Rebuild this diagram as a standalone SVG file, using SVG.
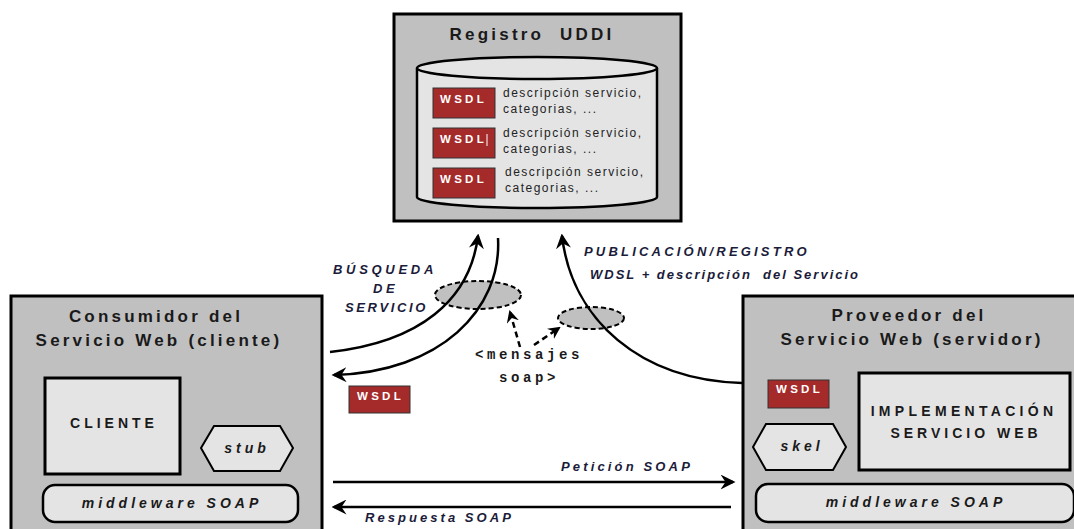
<svg xmlns="http://www.w3.org/2000/svg" width="1074" height="529" viewBox="0 0 1074 529">
<defs>
<style>
.box{fill:#c0c0c0;stroke:#000;stroke-width:3}
.inner{fill:#e4e4e4;stroke:#000;stroke-width:3}
.wsdl{fill:#a52a2a;stroke:#333;stroke-width:1}
.wt{font-family:"Liberation Sans",Arial,sans-serif;font-weight:bold;font-size:11.5px;fill:#fff;letter-spacing:3.3px}
.t{font-family:"Liberation Sans",Arial,sans-serif;font-weight:bold;fill:#1a1a1a}
.h{font-size:17px;letter-spacing:3.2px;white-space:pre}
.d{font-size:12px;font-weight:normal;fill:#222;letter-spacing:1.5px}
.it{font-family:"Liberation Sans",Arial,sans-serif;font-weight:bold;font-style:italic;fill:#1b1b3a;font-size:13px;letter-spacing:3px;white-space:pre}
.mono{font-family:"Liberation Mono","Courier New",monospace;font-weight:bold;font-size:14px;fill:#1a1a1a;letter-spacing:3.6px}
.b14{font-size:14px;letter-spacing:4px}
.i14{font-size:14px;font-style:italic;letter-spacing:4px}
.line{fill:none;stroke:#000;stroke-width:2.5}
.dash{fill:none;stroke:#000;stroke-width:2.5;stroke-dasharray:6 4}
</style>
<marker id="ah" viewBox="0 0 12 12" refX="10" refY="6" markerWidth="6" markerHeight="6" orient="auto" markerUnits="strokeWidth">
<path d="M0,0 L12,6 L0,12 L4,6 Z" fill="#000"/>
</marker>
<marker id="ahd" viewBox="0 0 12 12" refX="10" refY="6" markerWidth="5" markerHeight="5" orient="auto" markerUnits="strokeWidth">
<path d="M0,0 L12,6 L0,12 L4,6 Z" fill="#000"/>
</marker>
</defs>

<g id="uddi">
<rect class="box" x="394" y="14" width="287" height="207"/>
<text class="t h" x="532" y="40" text-anchor="middle">Registro  UDDI</text>
<path d="M417,68 L417,197 A120,11 0 0 0 657,197 L657,68" fill="#e4e4e4" stroke="#000" stroke-width="2.5"/>
<ellipse cx="537" cy="68" rx="120" ry="11" fill="#e4e4e4" stroke="#000" stroke-width="2.5"/>
<rect class="wsdl" x="433" y="88" width="62" height="30"/>
<text class="wt" x="440" y="103">WSDL</text>
<text class="t d" x="503" y="97">descripción servicio,</text>
<text class="t d" x="503" y="113">categorias, ...</text>
<rect class="wsdl" x="433" y="128" width="62" height="30"/>
<text class="wt" x="440" y="143">WSDL</text>
<line x1="487" y1="134" x2="487" y2="146" stroke="#fff" stroke-width="1"/>
<text class="t d" x="503" y="137">descripción servicio,</text>
<text class="t d" x="503" y="153">categorias, ...</text>
<rect class="wsdl" x="433" y="168" width="62" height="30"/>
<text class="wt" x="440" y="183">WSDL</text>
<text class="t d" x="505" y="176">descripción servicio,</text>
<text class="t d" x="505" y="192">categorias, ...</text>
</g>

<g id="consumidor">
<rect class="box" x="11" y="296" width="311" height="240"/>
<text class="t h" x="156" y="322" text-anchor="middle">Consumidor del</text>
<text class="t h" x="159" y="346" text-anchor="middle">Servicio Web (cliente)</text>
<rect class="inner" x="45" y="378" width="135" height="96"/>
<text class="t b14" x="114" y="428" text-anchor="middle">CLIENTE</text>
<polygon points="214,426 280,426 293,448 280,471 214,471 201,448" fill="#e4e4e4" stroke="#000" stroke-width="2"/>
<text class="t i14" x="247" y="453" text-anchor="middle">stub</text>
<rect x="43" y="485" width="255" height="37" rx="12" fill="#e4e4e4" stroke="#000" stroke-width="2.5"/>
<text class="t i14" x="172" y="508" text-anchor="middle">middleware SOAP</text>
</g>

<g id="proveedor">
<rect class="box" x="743" y="296" width="340" height="240"/>
<text class="t h" x="909" y="321" text-anchor="middle">Proveedor del</text>
<text class="t h" x="912" y="345" text-anchor="middle">Servicio Web (servidor)</text>
<rect class="wsdl" x="768" y="380" width="61" height="28"/>
<text class="wt" x="776" y="393">WSDL</text>
<rect class="inner" x="859" y="373" width="211" height="97"/>
<text class="t b14" x="964" y="416" text-anchor="middle" style="letter-spacing:4.3px">IMPLEMENTACIÓN</text>
<text class="t b14" x="966" y="438" text-anchor="middle">SERVICIO WEB</text>
<polygon points="766,424 833,424 846,447 833,470 766,470 753,447" fill="#e4e4e4" stroke="#000" stroke-width="2"/>
<text class="t i14" x="802" y="451" text-anchor="middle">skel</text>
<rect x="756" y="484" width="318" height="38" rx="12" fill="#e4e4e4" stroke="#000" stroke-width="2.5"/>
<text class="t i14" x="916" y="507" text-anchor="middle">middleware SOAP</text>
</g>

<g id="wsdl-msg">
<rect class="wsdl" x="349" y="386" width="61" height="27"/>
<text class="wt" x="357" y="400">WSDL</text>
</g>

<g id="mensajes">
<ellipse cx="478" cy="295" rx="43" ry="14" fill="#c0c0c0" stroke="#000" stroke-width="2" stroke-dasharray="5 3"/>
<ellipse cx="591" cy="318" rx="33" ry="11" fill="#c0c0c0" stroke="#000" stroke-width="2" stroke-dasharray="5 3"/>
<text class="mono" x="475" y="359">&lt;mensajes</text>
<text class="mono" x="499" y="382">soap&gt;</text>
</g>

<g id="connectors">
<path class="line" d="M330,352 C420,342 470,300 478,236" marker-end="url(#ah)"/>
<path class="line" d="M498,238 C502,310 440,372 334,375" marker-end="url(#ah)"/>
<path class="line" d="M742,383 C640,380 572,320 562,236" marker-end="url(#ah)"/>
<path class="line" d="M333,482 L733,482" marker-end="url(#ah)"/>
<path class="line" d="M731,507 L334,507" marker-end="url(#ah)"/>
<path class="dash" d="M520,347 L510,312" marker-end="url(#ahd)"/>
<path class="dash" d="M534,345 L559,328" marker-end="url(#ahd)"/>
</g>

<g id="labels">
<text class="it" x="333" y="274" style="letter-spacing:3.7px">BÚSQUEDA</text>
<text class="it" x="373" y="293" style="letter-spacing:3.5px">DE</text>
<text class="it" x="345" y="312" style="letter-spacing:2.6px">SERVICIO</text>
<text class="it" x="584" y="256" style="letter-spacing:3.2px">PUBLICACIÓN/REGISTRO</text>
<text class="it" x="590" y="279" style="letter-spacing:2px">WDSL + descripción  del Servicio</text>
<text class="it" x="561" y="471" style="letter-spacing:3.15px">Petición SOAP</text>
<text class="it" x="365" y="522" style="letter-spacing:3.05px">Respuesta SOAP</text>
</g>
</svg>
